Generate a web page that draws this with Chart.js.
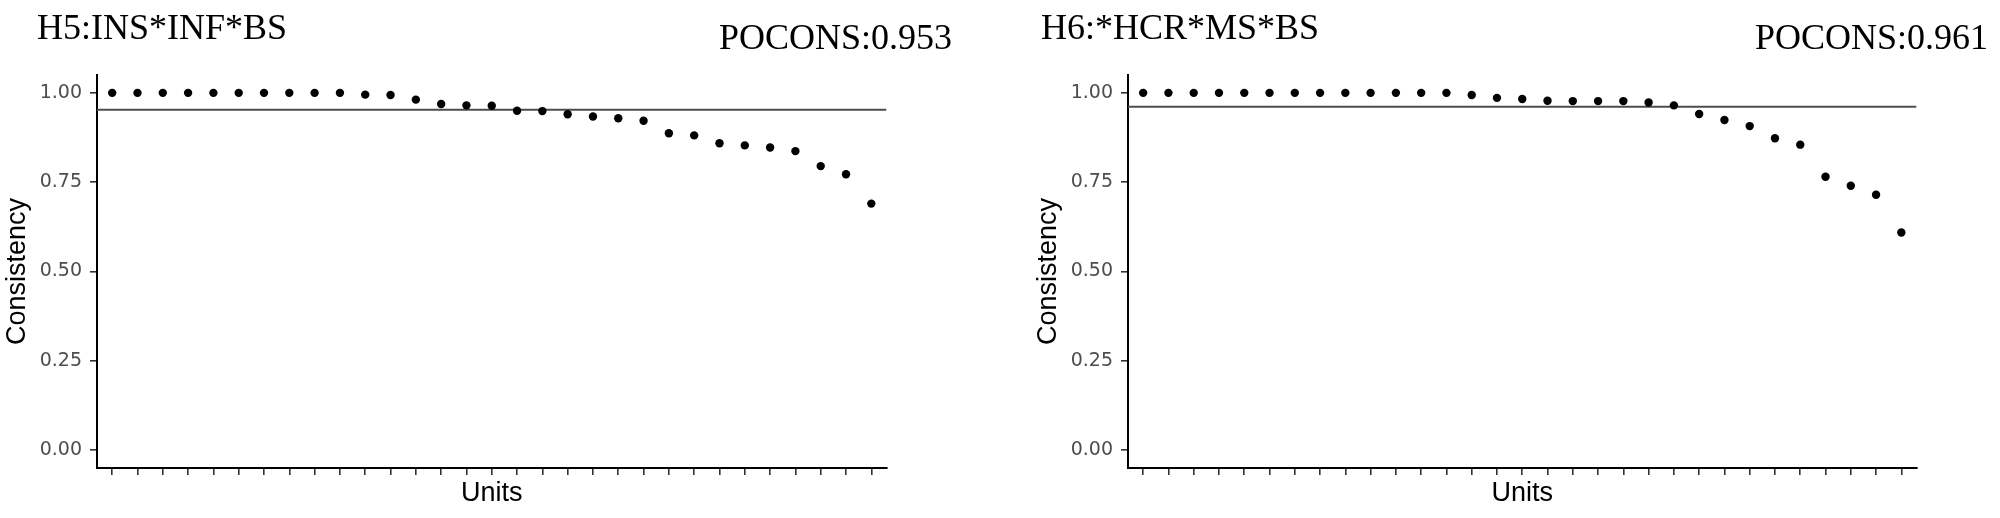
<!DOCTYPE html>
<html>
<head>
<meta charset="utf-8">
<script src="https://cdn.jsdelivr.net/npm/chart.js@4.4.1/dist/chart.umd.min.js"></script>
<style>
  html, body { margin: 0; padding: 0; background: #fff; overflow: hidden; }
  #wrap { position: relative; width: 2000px; height: 518px; }
  .panel { position: absolute; top: 0; height: 518px; }
  .lbl { position: absolute; font-family: "Liberation Serif", "Times New Roman", serif; font-size: 36px; line-height: 36px; color: #000; white-space: nowrap; }
</style>
</head>
<body>
<div id="wrap">
  <div class="panel" style="left:0;width:1000px"><canvas id="h5Chart" width="1000" height="518"></canvas></div>
  <div class="panel" style="left:1031px;width:969px"><canvas id="h6Chart" width="969" height="518"></canvas></div>
  <div class="lbl" style="left:37px;top:9px">H5:INS*INF*BS</div>
  <div class="lbl" style="right:1048px;top:19px">POCONS:0.953</div>
  <div class="lbl" style="left:1041px;top:9px">H6:*HCR*MS*BS</div>
  <div class="lbl" style="right:12px;top:19px">POCONS:0.961</div>
</div>
<script>
  // unidades (eixo x, sem rótulos)
  const units = [1, 2, 3, 4, 5, 6, 7, 8, 9, 10, 11, 12, 13, 14, 15, 16, 17, 18, 19, 20, 21, 22, 23, 24, 25, 26, 27, 28, 29, 30, 31];

  // consistência por unidade, H5
  const h5Consistency = [1.000, 1.000, 1.000, 1.000, 1.000, 1.000, 1.000, 1.000, 1.000, 1.000,
    0.995, 0.994, 0.981, 0.969, 0.965, 0.964, 0.950, 0.949, 0.940, 0.934,
    0.929, 0.922, 0.887, 0.881, 0.859, 0.853, 0.847, 0.837, 0.795, 0.772, 0.690];

  // consistência por unidade, H6
  const h6Consistency = [1.000, 1.000, 1.000, 1.000, 1.000, 1.000, 1.000, 1.000, 1.000, 1.000,
    1.000, 1.000, 1.000, 0.994, 0.986, 0.983, 0.978, 0.977, 0.977, 0.977,
    0.973, 0.965, 0.941, 0.924, 0.907, 0.873, 0.855, 0.765, 0.740, 0.715, 0.609];

  const h5Pocons = 0.953;
  const h6Pocons = 0.961;

  const yTicks = [0, 0.25, 0.5, 0.75, 1];
  const xMin = 0.4, xMax = 31.6;
  const yMin = -0.05, yMax = 1.05;

  function makePanel(id, values, pocons, padRight) {
    const ctx = document.getElementById(id).getContext("2d");
    return new Chart(ctx, {
      type: "scatter",
      data: {
        datasets: [
          {
            data: units.map((u, i) => ({ x: u, y: values[i] })),
            backgroundColor: "#000",
            borderColor: "#000",
            borderWidth: 0,
            pointRadius: 4.2,
            pointHoverRadius: 4.2
          },
          {
            // linha de referência POCONS
            type: "line",
            data: [{ x: xMin, y: pocons }, { x: xMax, y: pocons }],
            borderColor: "#4d4d4d",
            borderWidth: 2,
            pointRadius: 0,
            showLine: true,
            fill: false
          }
        ]
      },
      options: {
        responsive: false,
        animation: false,
        events: [],
        layout: { padding: { left: 0, top: 75, right: padRight, bottom: 0 } },
        plugins: {
          legend: { display: false },
          tooltip: { enabled: false },
          title: { display: false }
        },
        scales: {
          x: {
            type: "linear",
            min: xMin,
            max: xMax,
            afterBuildTicks: (s) => { s.ticks = units.map(u => ({ value: u })); },
            afterFit: (s) => { s.height = 50; },
            ticks: { display: false },
            grid: { drawOnChartArea: false, drawTicks: true, tickLength: 7, color: "#333", lineWidth: 1.6 },
            border: { display: true, color: "#000", width: 2 },
            title: {
              display: true,
              text: "Units",
              color: "#000",
              font: { family: "'Liberation Sans', Arial, sans-serif", size: 27 },
              padding: { top: 0, bottom: 8.5 }
            }
          },
          y: {
            type: "linear",
            min: yMin,
            max: yMax,
            afterBuildTicks: (s) => { s.ticks = yTicks.map(v => ({ value: v })); },
            afterFit: (s) => { s.width = 97; },
            ticks: {
              color: "#4d4d4d",
              padding: 8,
              font: { family: "'DejaVu Sans', sans-serif", size: 19 },
              callback: (v) => Number(v).toFixed(2)
            },
            grid: { drawOnChartArea: false, drawTicks: true, tickLength: 7, color: "#333", lineWidth: 1.6 },
            border: { display: true, color: "#000", width: 2 },
            title: {
              display: true,
              text: "Consistency",
              color: "#000",
              font: { family: "'Liberation Sans', Arial, sans-serif", size: 27 },
              padding: { top: 1, bottom: 0 }
            }
          }
        }
      }
    });
  }

  makePanel("h5Chart", h5Consistency, h5Pocons, 113.5);
  makePanel("h6Chart", h6Consistency, h6Pocons, 83.5);
</script>
</body>
</html>
